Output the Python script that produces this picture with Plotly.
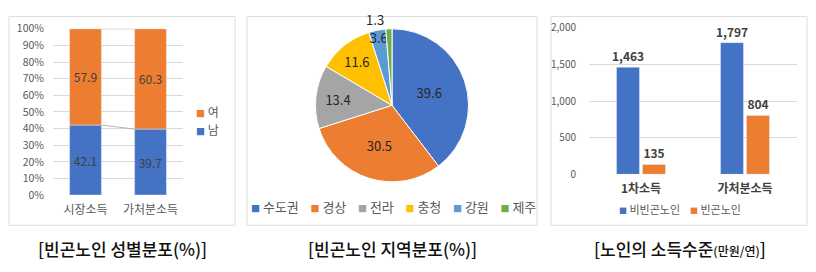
import plotly.graph_objects as go

# ---------------- data ----------------
gender_cats = ["시장소득", "가처분소득"]
male = [42.1, 39.7]
female = [57.9, 60.3]

regions = ["수도권", "경상", "전라", "충청", "강원", "제주"]
region_vals = [39.6, 30.5, 13.4, 11.6, 3.6, 1.3]

income_cats = ["1차소득", "가처분소득"]
non_poor = [1463, 1797]
poor = [135, 804]

captions = ["[빈곤노인 성별분포(%)]", "[빈곤노인 지역분포(%)]",
            "[노인의 소득수준<span style='font-size:12px'>(만원/연)</span>]"]

# ---------------- style ----------------
W, H = 816, 272
BLUE, ORANGE, GRAY, YELLOW, LBLUE, GREEN = "#4472C4", "#ED7D31", "#A5A5A5", "#FFC000", "#5B9BD5", "#70AD47"
pie_colors = [BLUE, ORANGE, GRAY, YELLOW, LBLUE, GREEN]
FONT = "Noto Sans CJK KR"
AX = "#595959"
GRID = "#d9d9d9"
NB = "\u00a0"


def px(x):
    return x / W


def py(y):
    return 1 - y / H


fig = go.Figure()

# ---- left: 100% stacked bars ----
xs = list(range(len(gender_cats)))
bw = 0.49
fig.add_trace(go.Bar(x=xs, y=male, width=bw, offset=-bw / 2, marker_color=BLUE,
                     text=[str(v) for v in male], texttemplate="%{text}", textposition="inside",
                     insidetextanchor="middle", textangle=0,
                     textfont=dict(color="#404040", size=12, family=FONT),
                     xaxis="x", yaxis="y", name="남"))
fig.add_trace(go.Bar(x=xs, y=female, base=male, width=bw, offset=-bw / 2, marker_color=ORANGE,
                     text=[str(v) for v in female], texttemplate="%{text}", textposition="inside",
                     insidetextanchor="middle", textangle=0,
                     textfont=dict(color="#404040", size=12, family=FONT),
                     xaxis="x", yaxis="y", name="여"))
# series connector lines
tops_m = male
tops_f = [m + f for m, f in zip(male, female)]
for tops in (tops_m, tops_f):
    for i in range(len(xs) - 1):
        fig.add_trace(go.Scatter(x=[xs[i] + bw / 2, xs[i + 1] - bw / 2], y=[tops[i], tops[i + 1]],
                                 mode="lines", line=dict(color="#a6a6a6", width=0.8),
                                 hoverinfo="skip", xaxis="x", yaxis="y"))

# ---- middle: pie ----
fig.add_trace(go.Pie(labels=regions, values=region_vals, sort=False, direction="clockwise",
                     rotation=0, marker=dict(colors=pie_colors, line=dict(color="white", width=1)),
                     texttemplate="%{value}", textposition=["inside"] * 5 + ["outside"],
                     insidetextorientation="horizontal",
                     textfont=dict(color="#262626", size=13, family=FONT),
                     domain=dict(x=[px(311), px(473)], y=[py(184), py(22)]),
                     hoverinfo="label+value"))

# ---- right: grouped bars ----
fig.add_trace(go.Bar(x=income_cats, y=non_poor, marker_color=BLUE, name="비빈곤노인",
                     texttemplate="<b>%{y:,}</b>", textposition="outside",
                     textfont=dict(color="#404040", size=11.5, family=FONT),
                     cliponaxis=False, xaxis="x2", yaxis="y2"))
fig.add_trace(go.Bar(x=income_cats, y=poor, marker_color=ORANGE, name="빈곤노인",
                     texttemplate="<b>%{y:,}</b>", textposition="outside",
                     textfont=dict(color="#404040", size=11.5, family=FONT),
                     cliponaxis=False, xaxis="x2", yaxis="y2"))

# ---------------- layout ----------------
annotations = []
# left legend
left_leg = [("여", ORANGE, 110), ("남", BLUE, 129)]
for name, col, yy in left_leg:
    annotations.append(dict(text=f"<span style='color:{col};font-size:9px'>■</span> {name}",
                            x=px(194), y=py(yy), xref="paper", yref="paper", xanchor="left",
                            yanchor="middle", showarrow=False,
                            font=dict(size=12, color=AX, family=FONT)))
# pie legend
pie_leg = (NB * 4).join(
    f"<span style='color:{c};font-size:9px'>■</span>{NB}{r}" for r, c in zip(regions, pie_colors))
annotations.append(dict(text=pie_leg, x=px(393), y=py(210), xref="paper", yref="paper",
                        xanchor="center", yanchor="middle", showarrow=False,
                        font=dict(size=13, color=AX, family=FONT)))
# right legend
right_leg = (NB * 4).join(
    f"<span style='color:{c};font-size:8px'>■</span>{NB}{n}" for n, c in zip(["비빈곤노인", "빈곤노인"], [BLUE, ORANGE]))
annotations.append(dict(text=right_leg, x=px(680), y=py(213), xref="paper", yref="paper",
                        xanchor="center", yanchor="middle", showarrow=False,
                        font=dict(size=11, color=AX, family=FONT)))
# captions
for cap, cx in zip(captions, [122, 392, 680]):
    annotations.append(dict(text=cap, x=px(cx), y=py(255), xref="paper", yref="paper",
                            xanchor="center", yanchor="middle", showarrow=False,
                            font=dict(size=17, color="#111111", family=FONT, weight=500)))

shapes = []
for x0, x1 in [(9, 235), (247, 537), (551, 807)]:
    shapes.append(dict(type="rect", xref="paper", yref="paper", x0=px(x0), x1=px(x1),
                       y0=py(230), y1=py(9), line=dict(color="#dedede", width=1),
                       fillcolor="rgba(0,0,0,0)", layer="below"))

fig.update_layout(
    width=W, height=H, autosize=False, margin=dict(l=0, r=0, t=0, b=0),
    paper_bgcolor="white", plot_bgcolor="white", showlegend=False,
    barmode="group", bargap=0.5, bargroupgap=0.115,
    uniformtext=dict(minsize=12, mode="show"),
    font=dict(family=FONT),
    xaxis=dict(domain=[px(53), px(183)], range=[-0.5, 1.5], tickvals=xs, ticktext=gender_cats,
               anchor="y", showgrid=False, zeroline=False, showline=False, ticks="",
               tickfont=dict(size=12, color=AX, family=FONT), ticklabelstandoff=6),
    yaxis=dict(domain=[py(198), py(22)], range=[0, 100], dtick=10, ticksuffix="%", anchor="x",
               gridcolor=GRID, gridwidth=1, zeroline=False, showline=False, ticks="",
               tickfont=dict(size=10.5, color=AX, family=FONT), ticklabelstandoff=8),
    xaxis2=dict(domain=[px(589), px(797)], anchor="y2", showgrid=False, zeroline=False,
                showline=False, ticks="",
                tickfont=dict(size=12, color="#404040", family=FONT), ticklabelstandoff=6,
                tickprefix="<b>", ticksuffix="</b>"),
    yaxis2=dict(domain=[py(176), py(21)], range=[0, 2000], dtick=500, tickformat=",", anchor="x2",
                gridcolor=GRID, gridwidth=1, zeroline=False, showline=False, ticks="",
                tickfont=dict(size=10, color=AX, family=FONT), ticklabelstandoff=12),
    annotations=annotations, shapes=shapes,
)

fig.write_html("out.html")
